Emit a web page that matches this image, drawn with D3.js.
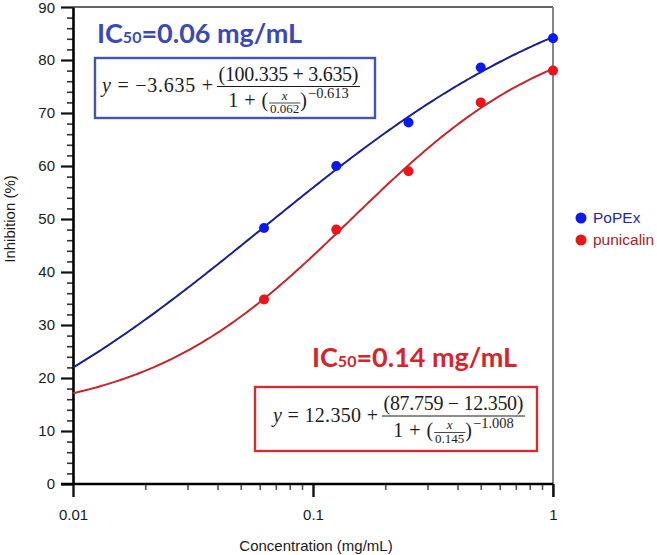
<!DOCTYPE html>
<html><head><meta charset="utf-8">
<script src="https://cdn.jsdelivr.net/npm/d3@7/dist/d3.min.js"></script>
<style>body{margin:0;background:#fff}svg{display:block}</style>
</head><body>
<svg id="c" width="657" height="555"></svg>
<script>
// ---- data ----
const concentrations = [0.0625, 0.125, 0.25, 0.5, 1];
const popexValues = [48.3, 60.0, 68.2, 78.6, 84.1];
const punicalinValues = [34.8, 48.0, 59.0, 72.0, 78.0];
const seriesNames = ["PoPEx", "punicalin"];
// four-parameter logistic fits shown on the chart: [bottom, top, IC50, hill]
const popexFit = [-3.635, 100.335, 0.062, -0.613];
const punicalinFit = [12.350, 87.759, 0.145, -1.008];
const yMajorTicks = [0, 10, 20, 30, 40, 50, 60, 70, 80, 90];
const xMajorTicks = [0.01, 0.1, 1];
const xTickLabels = ["0.01", "0.1", "1"];
const ic50Labels = ["0.06 mg/mL", "0.14 mg/mL"];

// ---- layout ----
const svg = d3.select("#c");
const L = 73, R = 553, T = 7, B = 484;
const x = d3.scaleLog().domain([0.01, 1]).range([L, R]);
const y = d3.scaleLinear().domain([0, 90]).range([B, T]);
const BLUE_DOT = "#0b18ee", RED_DOT = "#ec1418";
const BLUE_LINE = "#18208c", RED_LINE = "#c3262b";
const SANS = "'Liberation Sans', Arial, sans-serif";
const SERIF = "'Liberation Serif', 'DejaVu Serif', serif";

// frame (top and right)
svg.append("line").attr("x1", L).attr("x2", R).attr("y1", T).attr("y2", T)
  .attr("stroke", "#333").attr("stroke-width", 1.5);
svg.append("line").attr("x1", R).attr("x2", R).attr("y1", T).attr("y2", B + 13)
  .attr("stroke", "#777").attr("stroke-width", 1.8);

// y axis minor
const yMinor = d3.range(0, 91, 2).filter(v => v % 10 !== 0);
svg.append("g").attr("transform", `translate(${L},0)`)
  .call(d3.axisLeft(y).tickValues(yMinor).tickSize(6).tickFormat(""))
  .call(g => g.select(".domain").remove())
  .call(g => g.selectAll("line").attr("stroke", "#333").attr("stroke-width", 1.6));
// y axis major
svg.append("g").attr("transform", `translate(${L},0)`)
  .call(d3.axisLeft(y).tickValues(yMajorTicks).tickSize(12).tickPadding(6).tickSizeOuter(0))
  .call(g => g.select(".domain").attr("stroke", "#000").attr("stroke-width", 2.6))
  .call(g => g.selectAll("line").attr("stroke", "#111").attr("stroke-width", 2.2))
  .call(g => g.selectAll("text").attr("font-family", SANS).attr("font-size", 15).attr("fill", "#1a1a1a"))
  .call(g => g.selectAll("text").filter(d => d === 90).attr("dy", "0.38em"));

// x axis minor
const xMinor = [];
[0.01, 0.1].forEach(d => { for (let k = 2; k <= 9; k++) xMinor.push(d * k); });
svg.append("g").attr("transform", `translate(0,${B})`)
  .call(d3.axisBottom(x).tickValues(xMinor).tickSize(6).tickFormat(""))
  .call(g => g.select(".domain").remove())
  .call(g => g.selectAll("line").attr("stroke", "#555").attr("stroke-width", 1.6));
// x axis major
svg.append("g").attr("transform", `translate(0,${B})`)
  .call(d3.axisBottom(x).tickValues(xMajorTicks).tickSize(13).tickPadding(12)
    .tickFormat((d, i) => xTickLabels[i]).tickSizeOuter(0))
  .call(g => g.select(".domain").remove())
  .call(g => g.selectAll("line").attr("stroke", "#111").attr("stroke-width", 2.4))
  .call(g => g.selectAll("text").attr("font-family", SANS).attr("font-size", 15).attr("fill", "#1a1a1a"));
svg.append("line").attr("x1", L - 12).attr("x2", R).attr("y1", B).attr("y2", B)
  .attr("stroke", "#000").attr("stroke-width", 2.6);

// axis titles
svg.append("text").attr("transform", "translate(14.5,219) rotate(-90)")
  .attr("text-anchor", "middle").attr("font-family", SANS).attr("font-size", 15)
  .attr("fill", "#1a1a1a").text("Inhibition (%)");
svg.append("text").attr("x", 316).attr("y", 551)
  .attr("text-anchor", "middle").attr("font-family", SANS).attr("font-size", 15)
  .attr("fill", "#1a1a1a").text("Concentration (mg/mL)");

// fitted curves
const logistic = p => c => p[0] + (p[1] - p[0]) / (1 + Math.pow(c / p[2], p[3]));
const xs = d3.range(0, 201).map(i => Math.pow(10, -2 + 2 * i / 200));
const line = d3.line().x(d => x(d[0])).y(d => y(d[1])).curve(d3.curveLinear);
[[popexFit, BLUE_LINE], [punicalinFit, RED_LINE]].forEach(([p, col]) => {
  const f = logistic(p);
  svg.append("path").datum(xs.map(c => [c, f(c)])).attr("d", line)
    .attr("fill", "none").attr("stroke", col).attr("stroke-width", 2);
});

// points
[[popexValues, BLUE_DOT], [punicalinValues, RED_DOT]].forEach(([vals, col]) => {
  svg.append("g").selectAll("circle").data(vals).join("circle")
    .attr("cx", (d, i) => x(concentrations[i])).attr("cy", d => y(d))
    .attr("r", 5).attr("fill", col);
});

// legend
const legCols = [[BLUE_DOT, "#2626a8"], [RED_DOT, "#ad2222"]];
seriesNames.forEach((n, i) => {
  const cy = 218 + i * 22;
  svg.append("circle").attr("cx", 581).attr("cy", cy).attr("r", 5.5).attr("fill", legCols[i][0]);
  svg.append("text").attr("x", 593).attr("y", cy + 5).attr("font-family", SANS)
    .attr("font-size", 15.5).attr("fill", legCols[i][1]).text(n);
});

// IC50 titles
function title(tx, ty, col, label) {
  const t = svg.append("text").attr("x", tx).attr("y", ty)
    .attr("font-family", "Lato, 'Open Sans', sans-serif").attr("font-weight", 700)
    .attr("font-size", 27).attr("fill", col);
  t.append("tspan").text("IC");
  t.append("tspan").attr("font-size", 16).text("50");
  t.append("tspan").text("=" + label);
  t.attr("textLength", 205).attr("lengthAdjust", "spacingAndGlyphs");
}
title(97, 43, "#3a49b6", ic50Labels[0]);
title(312, 367, "#d8232a", ic50Labels[1]);

// equation boxes
function equation(box, boxCol, leadX, leadW, barY, constTxt, numTxt, denK, expTxt) {
  svg.append("rect").attr("x", box[0]).attr("y", box[1]).attr("width", box[2] - box[0])
    .attr("height", box[3] - box[1]).attr("fill", "#fff").attr("stroke", boxCol).attr("stroke-width", 2.4);
  const fs = 20, g = svg.append("g").attr("font-family", SERIF).attr("fill", "#1c1c1c");
  const lead = g.append("text").attr("x", leadX).attr("y", barY + 5.5).attr("font-size", fs);
  lead.append("tspan").attr("font-style", "italic").text("y");
  lead.append("tspan").text(" = " + constTxt + " +");
  lead.attr("textLength", leadW).attr("lengthAdjust", "spacing");
  const fx = leadX + leadW + 4;
  const num = g.append("text").attr("y", barY - 6).attr("font-size", fs).attr("text-anchor", "middle")
    .text(numTxt).attr("textLength", 140).attr("lengthAdjust", "spacing");
  const nw = 140;
  // denominator pieces
  const denY = barY + 20.5;
  const d1 = g.append("text").attr("y", denY).attr("font-size", fs).text("1 + (");
  const w1 = d1.node().getComputedTextLength() + 3;
  d1.attr("textLength", w1 - 1).attr("lengthAdjust", "spacing");
  const sx = g.append("text").attr("y", denY - 7.5).attr("font-size", 13).attr("font-style", "italic").attr("text-anchor", "middle").text("x");
  const sd = g.append("text").attr("y", denY + 6).attr("font-size", 13).attr("text-anchor", "middle").text(denK);
  const sw = sd.node().getComputedTextLength() + 2;
  const d2 = g.append("text").attr("y", denY).attr("font-size", fs).text(")");
  const w2 = d2.node().getComputedTextLength();
  const ex = g.append("text").attr("y", denY - 9).attr("font-size", 14.5).text(expTxt);
  const we = ex.node().getComputedTextLength();
  const dw = w1 + sw + w2 + we + 1;
  const W = Math.max(nw, dw) + 3;
  g.append("line").attr("x1", fx).attr("x2", fx + W).attr("y1", barY).attr("y2", barY)
    .attr("stroke", "#1c1c1c").attr("stroke-width", 1.1);
  num.attr("x", fx + W / 2);
  const dx = fx + (W - dw) / 2;
  d1.attr("x", dx);
  sx.attr("x", dx + w1 + sw / 2); sd.attr("x", dx + w1 + sw / 2);
  g.append("line").attr("x1", dx + w1).attr("x2", dx + w1 + sw).attr("y1", denY - 4).attr("y2", denY - 4)
    .attr("stroke", "#1c1c1c").attr("stroke-width", 0.8);
  d2.attr("x", dx + w1 + sw);
  ex.attr("x", dx + w1 + sw + w2 + 1);
}
equation([95, 58, 375, 118], "#4652b2", 102, 111, 86.5, "\u22123.635", "(100.335 + 3.635)", "0.062", "\u22120.613");
equation([255, 387, 537, 451], "#cc2f36", 273, 105, 416, "12.350", "(87.759 \u2212 12.350)", "0.145", "\u22121.008");
</script>
</body></html>
